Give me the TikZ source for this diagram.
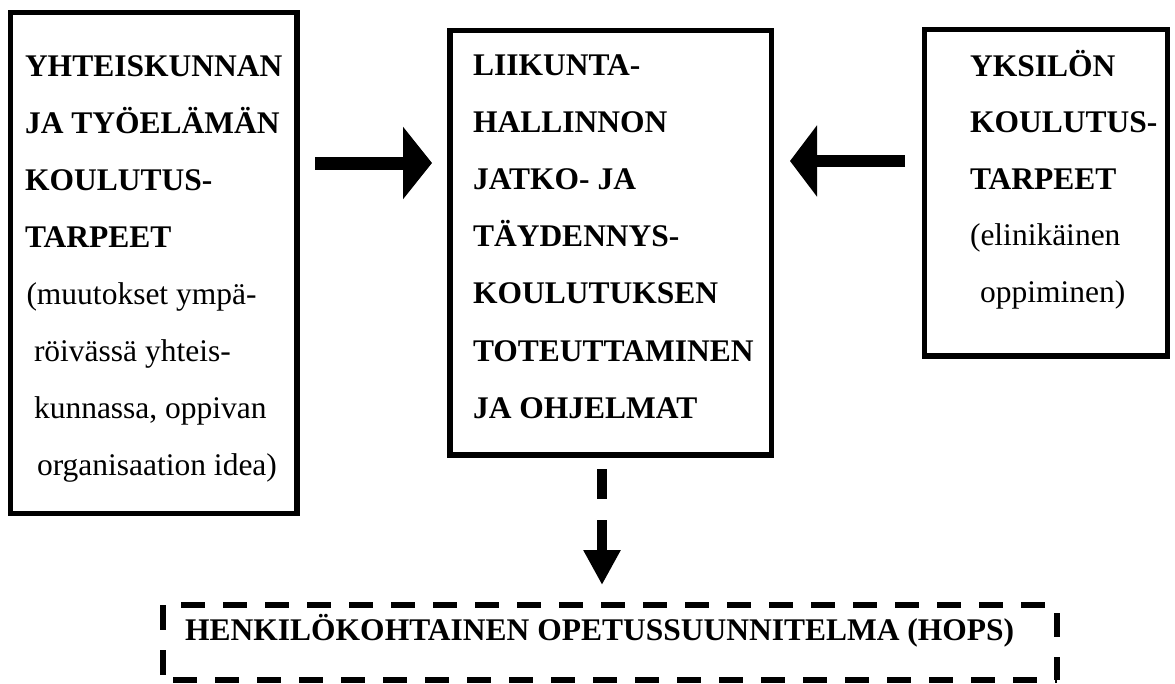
\documentclass[tikz,border=0pt]{standalone}
\usepackage{fontspec}
\setmainfont{Liberation Serif}
\usetikzlibrary{arrows.meta}
\begin{document}
\begin{tikzpicture}[x=1pt,y=-1pt,
  box/.style={draw, line width=5.5pt, inner sep=0pt, outer sep=0pt, anchor=north west},
  txt/.style={inner sep=0pt, outer sep=0pt, anchor=north west, align=left,
              font=\fontsize{31.5}{57}\selectfont},
  bigarrow/.style={line width=13pt, -{Triangle[length=29pt,width=71pt]}},
  dashside/.style={line width=6pt},
]
\useasboundingbox (0,0) rectangle (1175,683);

% boxes
\node[box, minimum width=286.5pt, minimum height=501pt] (L) at (10.5,12.5) {};
\node[box, minimum width=321.5pt, minimum height=424.5pt] (M) at (450,30.5) {};
\node[box, minimum width=243pt, minimum height=326.5pt] (R) at (924.5,29.5) {};
\node[inner sep=0pt, outer sep=0pt, minimum width=894pt, minimum height=75pt, anchor=north west] (H) at (163,605) {};

% texts
\node[txt] (tL) at (25,46.5) {\rule{0pt}{30pt}\bfseries YHTEISKUNNAN\\
 \bfseries JA TYÖELÄMÄN\\
 \bfseries KOULUTUS-\\
 \bfseries TARPEET\\
 \hspace*{1.5pt}(muutokset ympä-\\
 \hspace*{9pt}röivässä yhteis-\\
 \hspace*{9pt}kunnassa, oppivan\\
 \hspace*{12pt}organisaation idea)};

\node[txt, font=\fontsize{31.5}{57.2}\selectfont\bfseries] (tM) at (473,45) {\rule{0pt}{30pt}LIIKUNTA-\\
 HALLINNON\\
 JATKO- JA\\
 TÄYDENNYS-\\
 KOULUTUKSEN\\
 TOTEUTTAMINEN\\
 JA OHJELMAT};

\node[txt, font=\fontsize{31.5}{56.5}\selectfont] (tR) at (970,46) {\rule{0pt}{30pt}\bfseries YKSILÖN\\
 \bfseries KOULUTUS-\\
 \bfseries TARPEET\\
 (elinikäinen\\
 \hspace*{10pt}oppiminen)};

\node[inner sep=0pt, anchor=base west, font=\fontsize{31.5}{38}\selectfont\bfseries] (tH) at (185,640)
 {HENKILÖKOHTAINEN OPETUSSUUNNITELMA (HOPS)};

% dashed box sides
\draw[dashside, dash pattern=on 24pt off 18pt, dash phase=24pt] (H.north west) -- (H.north east);
\draw[dashside, dash pattern=on 24pt off 18pt, dash phase=32pt] (H.south west) -- (H.south east);
\draw[dashside, dash pattern=on 25pt off 20pt] (H.north west) -- (H.south west);
\draw[dashside, dash pattern=on 24pt off 20pt, dash phase=36pt] (H.north east) -- (H.south east);

% arrows
\coordinate (a1) at (0,163);
\coordinate (a2) at (0,161);
\coordinate (a3) at (602,0);
\draw[bigarrow, shorten <=18pt, shorten >=18pt] (L.east |- a1) -- (M.west |- a1);
\draw[line width=12pt, -{Triangle[length=27pt,width=70pt]}, shorten <=19.5pt, shorten >=18.5pt] (R.west |- a2) -- (M.east |- a2);
\draw[line width=10pt, dash pattern=on 30pt off 21pt, -{Triangle[length=35pt,width=35pt]}, shorten <=14pt, shorten >=20pt] (M.south -| a3) -- (H.north -| a3);
\end{tikzpicture}
\end{document}
